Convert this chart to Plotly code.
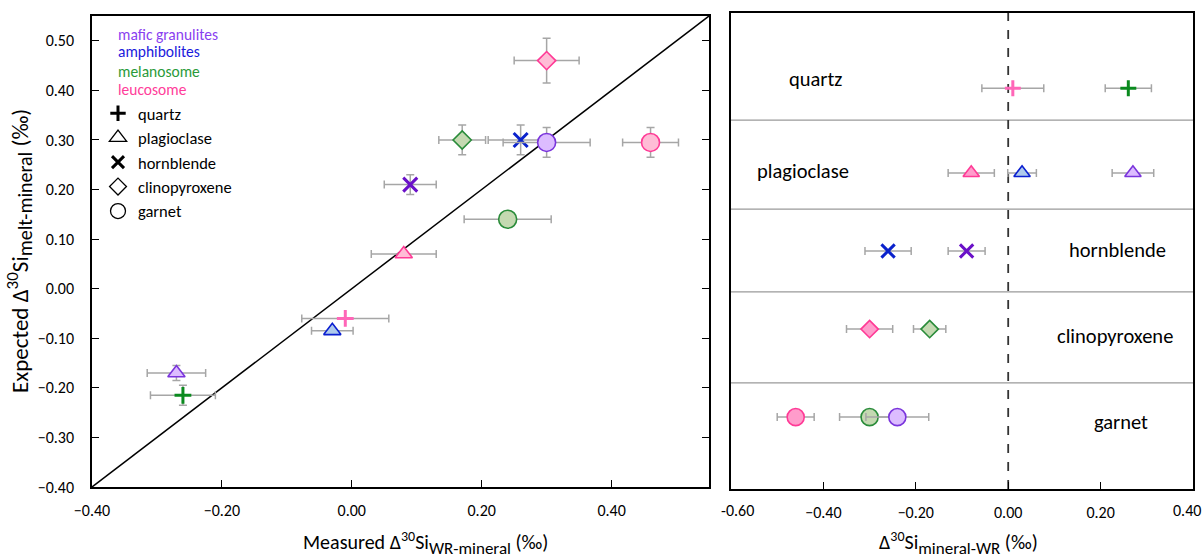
import plotly.graph_objects as go

W, H = 1204, 558
FONT = "Carlito, Calibri, Lato, sans-serif"

# ---------------- data: left panel (measured vs expected) ----------------
rock_L = ["leucosome", "melanosome", "amphibolites", "mafic granulites", "mafic granulites",
          "melanosome", "leucosome", "leucosome", "leucosome", "amphibolites",
          "mafic granulites", "melanosome"]
mineral_L = ["clinopyroxene", "clinopyroxene", "hornblende", "garnet", "hornblende",
             "garnet", "garnet", "plagioclase", "quartz", "plagioclase",
             "plagioclase", "quartz"]
measured = [0.30, 0.17, 0.26, 0.30, 0.09, 0.24, 0.46, 0.08, -0.01, -0.03, -0.27, -0.26]
measured_err = [0.05, 0.036, 0.05, 0.067, 0.04, 0.067, 0.043, 0.05, 0.067, 0.032, 0.045, 0.05]
expected = [0.46, 0.30, 0.30, 0.295, 0.21, 0.14, 0.295, 0.07, -0.06, -0.085, -0.17, -0.215]
expected_err = [0.045, 0.03, 0.03, 0.03, 0.02, 0.0, 0.03, 0.0, 0.0, 0.0, 0.015, 0.02]

# ---------------- data: right panel (mineral-WR by mineral) ----------------
rock_R = ["leucosome", "melanosome", "leucosome", "amphibolites", "mafic granulites",
          "amphibolites", "mafic granulites", "leucosome", "melanosome",
          "leucosome", "melanosome", "mafic granulites"]
mineral_R = ["quartz", "quartz", "plagioclase", "plagioclase", "plagioclase",
             "hornblende", "hornblende", "clinopyroxene", "clinopyroxene",
             "garnet", "garnet", "garnet"]
delta_R = [0.01, 0.26, -0.08, 0.03, 0.27, -0.26, -0.09, -0.30, -0.17, -0.46, -0.30, -0.24]
delta_R_err = [0.067, 0.05, 0.05, 0.031, 0.045, 0.05, 0.04, 0.05, 0.035, 0.04, 0.065, 0.068]

minerals = ["quartz", "plagioclase", "hornblende", "clinopyroxene", "garnet"]
row_y = [8.42, 6.64, 5.0, 3.36, 1.51]
row_dividers = [7.75, 5.88, 4.14, 2.23]
rocks = ["mafic granulites", "amphibolites", "melanosome", "leucosome"]

x_ticks_L = [-0.40, -0.20, 0.00, 0.20, 0.40]
y_ticks_L = [0.50, 0.40, 0.30, 0.20, 0.10, 0.00, -0.10, -0.20, -0.30, -0.40]
x_ticks_R = [-0.40, -0.20, 0.00, 0.20]
x_edge_labels_R = [-0.60, 0.40]
range_L = [-0.40, 0.55]
range_R = [-0.60, 0.40]

# ---------------- styles ----------------
symbol = {"quartz": "cross-thin", "plagioclase": "triangle-up", "hornblende": "x-thin",
          "clinopyroxene": "diamond", "garnet": "circle"}
msize = {"quartz": 12, "plagioclase": 15, "hornblende": 14, "clinopyroxene": 14, "garnet": 18}
text_col = {"mafic granulites": "#8a3ff0", "amphibolites": "#1a1adc",
            "melanosome": "#2a9a3a", "leucosome": "#ff3d9a"}
line_col = {"mafic granulites": "#7a34dc", "amphibolites": "#0a1fd0",
            "melanosome": "#2a8c3a", "leucosome": "#ff3a96"}
thin_col = {"mafic granulites": "#6a10c8", "amphibolites": "#0a22cc",
            "melanosome": "#0a8a1e", "leucosome": "#ff66b8"}
fill_L = {"mafic granulites": "#dcbcff", "amphibolites": "#aecaec",
          "melanosome": "#c4d9b1", "leucosome": "#ffbcd6"}
fill_R = {"mafic granulites": "#dcbcff", "amphibolites": "#aecaec",
          "melanosome": "#c4d9b1", "leucosome": "#ff9ccb"}
ERR = "#a6a6a6"

fig = go.Figure()


def add_point(x, y, xe, ye, rock, mineral, xa, ya, fills, size_scale=1.0):
    thin = mineral in ("quartz", "hornblende")
    if thin:
        marker = dict(symbol=symbol[mineral], size=msize[mineral] * size_scale,
                      color=thin_col[rock], line=dict(color=thin_col[rock], width=3))
    else:
        marker = dict(symbol=symbol[mineral], size=msize[mineral] * size_scale,
                      color=fills[rock], line=dict(color=line_col[rock], width=1.6))
    fig.add_trace(go.Scatter(
        x=[x], y=[y], xaxis=xa, yaxis=ya, mode="markers", marker=marker,
        error_x=dict(type="data", array=[xe], color=ERR, thickness=1.5, width=4, visible=xe > 0),
        error_y=dict(type="data", array=[ye], color=ERR, thickness=1.5, width=4, visible=ye > 0),
        showlegend=False, hoverinfo="skip"))


# left panel points
for i in range(len(measured)):
    add_point(measured[i], expected[i], measured_err[i], expected_err[i],
              rock_L[i], mineral_L[i], "x", "y", fill_L)

# right panel points
for i in range(len(delta_R)):
    ry = row_y[minerals.index(mineral_R[i])]
    add_point(delta_R[i], ry, delta_R_err[i], 0, rock_R[i], mineral_R[i], "x2", "y2",
              fill_R, 0.95)

# legend entries (black symbols)
for m in minerals:
    thin = m in ("quartz", "hornblende")
    sym = symbol[m] if thin else symbol[m] + "-open"
    fig.add_trace(go.Scatter(
        x=[None], y=[None], xaxis="x", yaxis="y", mode="markers", name=m,
        marker=dict(symbol=sym, size={"quartz": 11, "plagioclase": 15, "hornblende": 12,
                                      "clinopyroxene": 13, "garnet": 15}[m],
                    color="black", line=dict(color="black", width=3 if thin else 1.3)),
        showlegend=True))

# 1:1 line
fig.add_shape(type="line", xref="x", yref="y", x0=range_L[0], y0=range_L[0],
              x1=range_L[1], y1=range_L[1], line=dict(color="black", width=1.5), layer="below")

# right panel dividers and zero line
for d in row_dividers:
    fig.add_shape(type="line", xref="x2 domain", yref="y2", x0=0, x1=1, y0=d, y1=d,
                  line=dict(color="#9a9a9a", width=1.2), layer="below")
fig.add_shape(type="line", xref="x2", yref="y2 domain", x0=0, x1=0, y0=0, y1=1,
              line=dict(color="#333333", width=1.8, dash="dash"), layer="below")

ann = []
# group labels (colored)
grp_y = [34, 52, 71, 90]
for r, py in zip(rocks, grp_y):
    ann.append(dict(text=r, x=116 / W, y=1 - py / H, xref="paper", yref="paper",
                    xanchor="left", yanchor="middle", showarrow=False,
                    font=dict(family=FONT, size=15.5, color=text_col[r])))

# right panel mineral labels
lab_pos = {"quartz": (815, 79), "plagioclase": (803, 171), "hornblende": (1117, 250),
           "clinopyroxene": (1115, 336), "garnet": (1121, 422)}
for m in minerals:
    px, py = lab_pos[m]
    ann.append(dict(text=m, x=px / W, y=1 - py / H, xref="paper", yref="paper",
                    xanchor="center", yanchor="middle", showarrow=False,
                    font=dict(family=FONT, size=20.5, color="black")))

# right axis edge tick labels (pulled inside like the original)
for v, px in zip(x_edge_labels_R, [737, 1187]):
    ann.append(dict(text=f"{v:.2f}", x=px / W, y=1 - 510 / H, xref="paper", yref="paper",
                    xanchor="center", yanchor="middle", showarrow=False,
                    font=dict(family=FONT, size=16, color="black")))

# axis titles
SUP = '<sup><span style="font-size:14px">30</span></sup>'
ann.append(dict(text=f'Measured Δ{SUP}Si<sub><span style="font-size:17px">WR-mineral</span></sub> (‰)',
                x=425 / W, y=1 - 543 / H,
                xref="paper", yref="paper", showarrow=False, xanchor="center", yanchor="middle",
                font=dict(family=FONT, size=20, color="black")))
ann.append(dict(text=f'Δ{SUP}Si<sub><span style="font-size:17px">mineral-WR</span></sub> (‰)',
                x=958 / W, y=1 - 543 / H,
                xref="paper", yref="paper", showarrow=False, xanchor="center", yanchor="middle",
                font=dict(family=FONT, size=20, color="black")))
ann.append(dict(text=f'Expected Δ<sup><span style="font-size:17px">30</span></sup>Si'
                     f'<sub><span style="font-size:20px">melt-mineral</span></sub> (‰)',
                x=20 / W, y=1 - 251 / H,
                xref="paper", yref="paper", showarrow=False, xanchor="center", yanchor="middle",
                textangle=-90, font=dict(family=FONT, size=23, color="black")))

axis_common = dict(showline=True, linecolor="black", linewidth=1.5,
                   showgrid=False, zeroline=False, ticks="inside", ticklen=7,
                   tickcolor="black", tickwidth=1.3, automargin=False,
                   tickfont=dict(family=FONT, size=16, color="black"))

fig.update_layout(
    width=W, height=H, margin=dict(l=0, r=0, t=0, b=0, pad=0),
    paper_bgcolor="white", plot_bgcolor="white",
    font=dict(family=FONT, color="black"),
    xaxis=dict(domain=[92 / W, 709 / W], range=range_L, tickvals=x_ticks_L, mirror=True,
               tickformat=".2f", ticklabelstandoff=8, anchor="y", **axis_common),
    yaxis=dict(domain=[1 - 487 / H, 1 - 16 / H], range=range_L, tickvals=y_ticks_L,
               mirror="ticks",
               tickformat=".2f", ticklabelstandoff=13, anchor="x", **axis_common),
    xaxis2=dict(domain=[731 / W, 1193 / W], range=range_R, tickvals=x_ticks_R, mirror=True,
                tickformat=".2f", ticklabelstandoff=8, anchor="y2", **axis_common),
    yaxis2=dict(domain=[1 - 489 / H, 1 - 13 / H], range=[0, 10], anchor="x2",
                showline=True, linecolor="black", linewidth=1.5, mirror=True,
                showgrid=False, zeroline=False, ticks="", showticklabels=False,
                automargin=False),
    legend=dict(x=98 / W, y=1 - 96 / H, xanchor="left", yanchor="top",
                bgcolor="rgba(0,0,0,0)", borderwidth=0,
                font=dict(family=FONT, size=16.5, color="black"),
                itemsizing="trace", tracegroupgap=0),
    annotations=ann,
)

fig.write_html("out.html")
